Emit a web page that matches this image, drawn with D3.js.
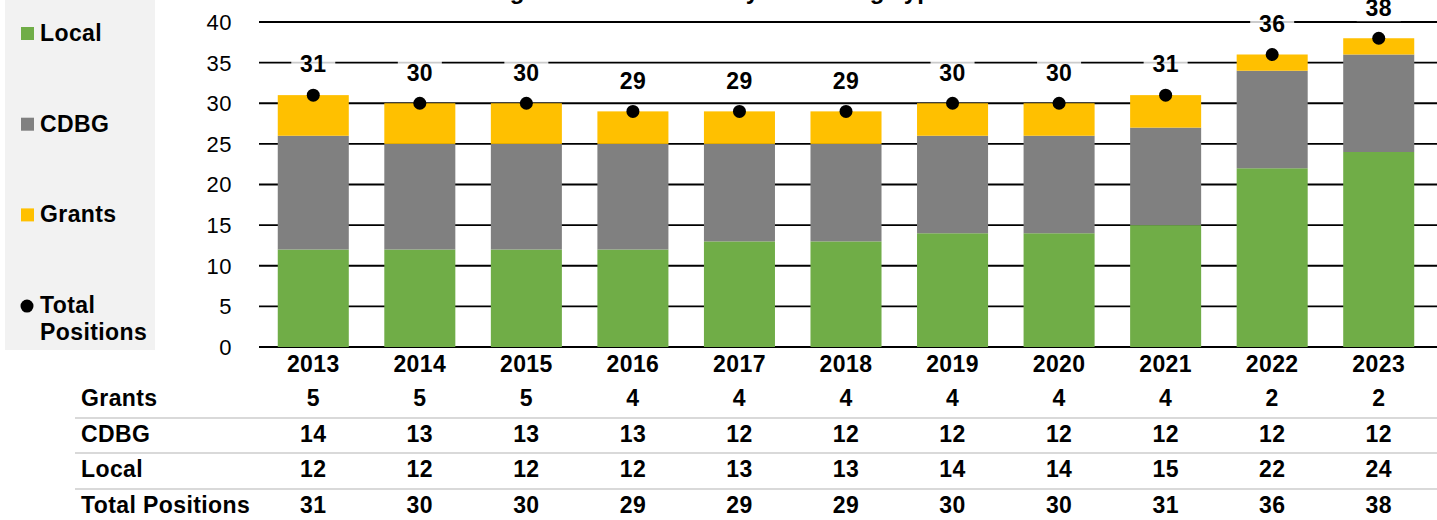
<!DOCTYPE html>
<html>
<head>
<meta charset="utf-8">
<script src="https://cdn.jsdelivr.net/npm/d3@7"></script>
<style>
  body { margin: 0; background: #fff; }
  text { font-family: "Liberation Sans", Arial, sans-serif; }
  .bold { font-size: 23px; font-weight: bold; letter-spacing: 0.4px; }
</style>
</head>
<body>
<svg id="chart" width="1437" height="520"></svg>
<script>
const years = ['2013', '2014', '2015', '2016', '2017', '2018', '2019', '2020', '2021', '2022', '2023'];
const grants = [5, 5, 5, 4, 4, 4, 4, 4, 4, 2, 2];
const cdbg = [14, 13, 13, 13, 12, 12, 12, 12, 12, 12, 12];
const local = [12, 12, 12, 12, 13, 13, 14, 14, 15, 22, 24];
const totals = [31, 30, 30, 29, 29, 29, 30, 30, 31, 36, 38];
const yTicks = [0, 5, 10, 15, 20, 25, 30, 35, 40];
const seriesNames = ['Local', 'CDBG', 'Grants'];
const seriesColors = ['#70ad47', '#808080', '#ffc000'];
const legendNames = ['Local', 'CDBG', 'Grants', 'Total Positions'];
const tableRows = [['Grants', grants], ['CDBG', cdbg], ['Local', local], ['Total Positions', totals]];

const width = 1437;
const height = 520;
const svg = d3.select('#chart');

// scales
const xScale = d3.scaleBand()
    .domain(years)
    .range([260, 1432])
    .paddingInner(1 / 3)
    .paddingOuter(1 / 6);

const yScale = d3.scaleLinear()
    .domain([0, 40])
    .range([347, 22]);

// title (mostly off the top of the picture)
svg.append('text')
    .attr('x', 435)
    .attr('y', -1)
    .style('font-size', '24px')
    .style('font-weight', 'bold')
    .text('Staffing Positions \u2014 History & Funding Type');

// legend panel
svg.append('rect')
    .attr('x', 5).attr('y', 0)
    .attr('width', 150).attr('height', 350)
    .attr('fill', '#f2f2f2');

const legend = svg.selectAll('.legend')
    .data(legendNames)
    .enter()
    .append('g')
    .attr('class', 'legend')
    .attr('transform', (d, i) => `translate(21, ${41 + i * 90.7})`);

legend.filter((d, i) => i < 3)
    .append('rect')
    .attr('x', 0).attr('y', -14)
    .attr('width', 13).attr('height', 13)
    .attr('fill', (d, i) => seriesColors[i]);

legend.filter((d, i) => i === 3)
    .append('circle')
    .attr('cx', 6).attr('cy', -7)
    .attr('r', 6.5)
    .attr('fill', '#000');

legend.append('text')
    .attr('class', 'bold')
    .attr('x', 19)
    .selectAll('tspan')
    .data(d => d.split(' '))
    .enter()
    .append('tspan')
    .attr('x', 19)
    .attr('dy', (d, i) => i === 0 ? 0 : 27)
    .text(d => d);

// gridlines + y labels
svg.append('g')
    .selectAll('line')
    .data(yTicks)
    .enter()
    .append('line')
    .attr('x1', 259)
    .attr('x2', width)
    .attr('y1', d => yScale(d))
    .attr('y2', d => yScale(d))
    .attr('stroke', '#000')
    .attr('stroke-width', 1.8);

svg.append('g')
    .selectAll('text')
    .data(yTicks)
    .enter()
    .append('text')
    .attr('x', 232)
    .attr('y', d => yScale(d))
    .attr('dy', '0.36em')
    .style('text-anchor', 'end')
    .style('font-size', '22px')
    .style('letter-spacing', '0.5px')
    .text(d => d);

// stacked bars
const rows = years.map((y, i) => ({ year: y, Local: local[i], CDBG: cdbg[i], Grants: grants[i] }));
const stacked = d3.stack().keys(seriesNames)(rows);

svg.append('g')
    .selectAll('g')
    .data(stacked)
    .enter()
    .append('g')
    .attr('fill', (d, i) => seriesColors[i])
    .selectAll('rect')
    .data(d => d)
    .enter()
    .append('rect')
    .attr('x', d => xScale(d.data.year))
    .attr('y', d => yScale(d[1]))
    .attr('width', xScale.bandwidth())
    .attr('height', d => yScale(d[0]) - yScale(d[1]));

// total dots
svg.append('g')
    .selectAll('circle')
    .data(totals)
    .enter()
    .append('circle')
    .attr('cx', (d, i) => xScale(years[i]) + xScale.bandwidth() / 2)
    .attr('cy', d => yScale(d))
    .attr('r', 6.5)
    .attr('fill', '#000');

// total labels with a faint white box
const labels = svg.append('g')
    .selectAll('g')
    .data(totals)
    .enter()
    .append('g')
    .attr('transform', (d, i) => `translate(${xScale(years[i]) + xScale.bandwidth() / 2}, ${yScale(d) - 31})`);

labels.append('rect')
    .attr('x', -22).attr('y', -14)
    .attr('width', 44).attr('height', 28)
    .attr('fill', '#fff')
    .attr('fill-opacity', 0.8);

labels.append('text')
    .attr('class', 'bold')
    .attr('dy', '0.36em')
    .style('text-anchor', 'middle')
    .text(d => d);

// x labels
svg.append('g')
    .selectAll('text')
    .data(years)
    .enter()
    .append('text')
    .attr('class', 'bold')
    .attr('x', d => xScale(d) + xScale.bandwidth() / 2)
    .attr('y', 372)
    .style('text-anchor', 'middle')
    .text(d => d);

// data table
const rowBase = [406, 442, 477, 513];
svg.append('g')
    .selectAll('line')
    .data(rowBase.slice(1))
    .enter()
    .append('line')
    .attr('x1', 75)
    .attr('x2', width)
    .attr('y1', d => d - 24)
    .attr('y2', d => d - 24)
    .attr('stroke', '#d9d9d9')
    .attr('stroke-width', 2);

const tableG = svg.append('g')
    .selectAll('g')
    .data(tableRows)
    .enter()
    .append('g')
    .attr('class', 'bold')
    .attr('transform', (d, i) => `translate(0, ${rowBase[i]})`);

tableG.append('text')
    .attr('x', 81)
    .text(d => d[0]);

tableG.selectAll('.val')
    .data(d => d[1])
    .enter()
    .append('text')
    .attr('class', 'val')
    .attr('x', (d, i) => xScale(years[i]) + xScale.bandwidth() / 2)
    .style('text-anchor', 'middle')
    .text(d => d);
</script>
</body>
</html>
